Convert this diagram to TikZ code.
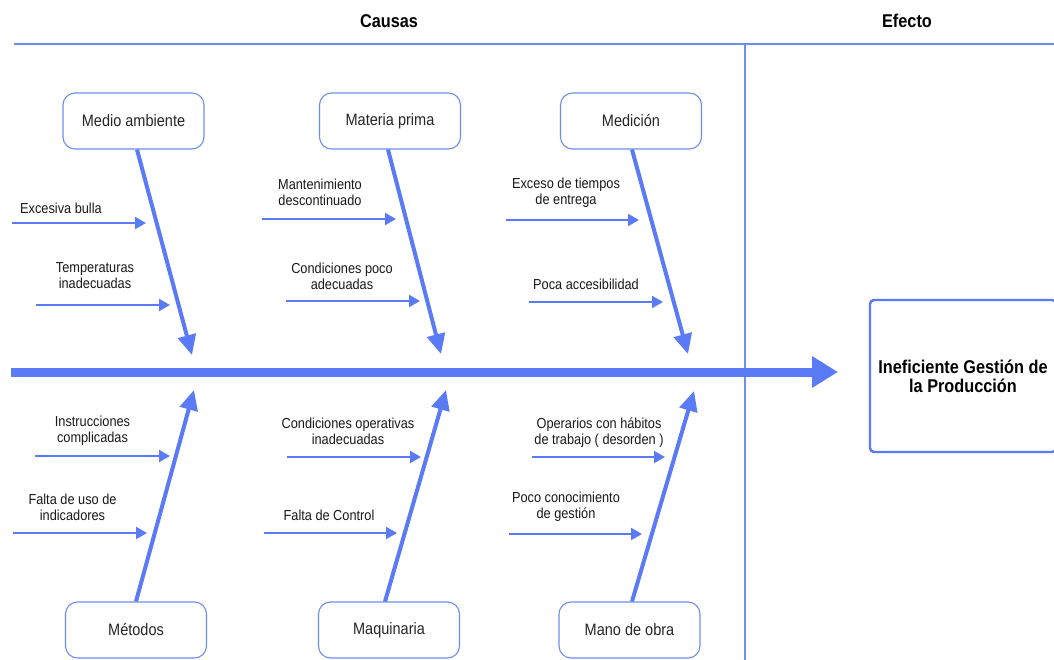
\documentclass[tikz,border=0pt]{standalone}
\usepackage{fontspec}
\setmainfont{Liberation Sans}
\newfontfamily\lab[FakeStretch=0.88]{Liberation Sans}
\usetikzlibrary{arrows.meta}
\definecolor{bl}{RGB}{90,123,245}
\definecolor{bb}{RGB}{110,140,242}
\tikzset{
 causebox/.style={draw=bb, line width=1.1pt, rounded corners=12pt, minimum width=141pt, minimum height=56pt, font=\lab\fontsize{16.5}{19}\selectfont, text=black!85, inner sep=0pt},
 lbl/.style={align=center, font=\lab\fontsize{14.5}{16}\selectfont, inner sep=0pt, text=black!90},
 head/.style={font=\lab\bfseries\fontsize{18.5}{20}\selectfont, inner sep=0pt},
 twig/.style={draw=bl, line width=2.2pt, -{Triangle[length=11pt,width=12pt]}},
 bone/.style={draw=bl, line width=4pt, -{Triangle[length=20pt,width=18pt]}},
 spine/.style={draw=bl, line width=9pt, -{Triangle[length=26pt,width=30pt]}},
 sepline/.style={draw=bb, line width=1.2pt},
 effbox/.style={draw=bl, line width=2.4pt, rounded corners=4pt, minimum width=186pt, minimum height=152pt, align=center, font=\lab\bfseries\fontsize{18.5}{19}\selectfont, inner sep=0pt},
}
\begin{document}
\begin{tikzpicture}[x=1pt,y=-1pt]
\useasboundingbox (0,0) rectangle (1054,660);
\fill[white] (0,0) rectangle (1054,660);

% headers and separators
\node[head] (causas) at (389,21) {Causas};
\node[head] (efecto) at (907,21) {Efecto};
\coordinate (tl) at (14,44);
\coordinate (tr) at (1056,44);
\coordinate (vt) at (745,44);
\coordinate (vb) at (745,662);
\draw[sepline] (tl) -- (tr);
\draw[sepline] (vt) -- (vb);

% effect
\node[effbox] (eff) at (963,376) {Ineficiente Gestión de\\la Producción};

% spine
\coordinate (s0) at (11,372);
\coordinate (s1) at (838,372);
\draw[spine] (s0) -- (s1);

% cause boxes
\node[causebox] (ma) at (133.5,121) {Medio ambiente};
\node[causebox] (mp) at (390,121) {Materia prima};
\node[causebox] (me) at (631,121) {Medición};
\node[causebox] (mt) at (136,630) {Métodos};
\node[causebox] (mq) at (389,630) {Maquinaria};
\node[causebox] (mo) at (629.5,630) {Mano de obra};

% bone tips
\coordinate (tma) at (192,355);
\coordinate (tmp) at (441,354);
\coordinate (tme) at (688,354);
\coordinate (tmt) at (194,390);
\coordinate (tmq) at (446,390);
\coordinate (tmo) at (694,391);

\draw[bone] ([xshift=3.5pt]ma.south) -- (tma);
\draw[bone] ([xshift=-2pt]mp.south) -- (tmp);
\draw[bone] ([xshift=1pt]me.south) -- (tme);
\draw[bone] (mt.north) -- (tmt);
\draw[bone] ([xshift=-4pt]mq.north) -- (tmq);
\draw[bone] ([xshift=2.5pt]mo.north) -- (tmo);

% twigs: top left
\node[lbl] (l1) at (61,208) {Excesiva bulla};
\coordinate (a1) at (12,223); \coordinate (b1) at (146,223);
\draw[twig] (a1) -- (b1);
\node[lbl] (l2) at (95,276) {Temperaturas\\inadecuadas};
\coordinate (a2) at (36,305); \coordinate (b2) at (170,305);
\draw[twig] (a2) -- (b2);

% top middle
\node[lbl] (l3) at (320,192) {Mantenimiento\\descontinuado};
\coordinate (a3) at (262,219); \coordinate (b3) at (396,219);
\draw[twig] (a3) -- (b3);
\node[lbl] (l4) at (342,276) {Condiciones poco\\adecuadas};
\coordinate (a4) at (286,301); \coordinate (b4) at (420,301);
\draw[twig] (a4) -- (b4);

% top right
\node[lbl] (l5) at (566,193) {Exceso de tiempos\\de entrega};
\coordinate (a5) at (506,220); \coordinate (b5) at (639,220);
\draw[twig] (a5) -- (b5);
\node[lbl] (l6) at (586,284) {Poca accesibilidad};
\coordinate (a6) at (529,302); \coordinate (b6) at (663,302);
\draw[twig] (a6) -- (b6);

% bottom left
\node[lbl] (l7) at (92.5,431) {Instrucciones\\complicadas};
\coordinate (a7) at (35,456); \coordinate (b7) at (170,456);
\draw[twig] (a7) -- (b7);
\node[lbl] (l8) at (72.5,507) {Falta de uso de\\indicadores};
\coordinate (a8) at (13,533); \coordinate (b8) at (147,533);
\draw[twig] (a8) -- (b8);

% bottom middle
\node[lbl] (l9) at (348,431) {Condiciones operativas\\inadecuadas};
\coordinate (a9) at (287,457); \coordinate (b9) at (421,457);
\draw[twig] (a9) -- (b9);
\node[lbl] (l10) at (329,515) {Falta de Control};
\coordinate (a10) at (264,533); \coordinate (b10) at (397,533);
\draw[twig] (a10) -- (b10);

% bottom right
\node[lbl] (l11) at (599,433) {Operarios con hábitos\\de trabajo ( desorden )};
\coordinate (a11) at (532,457); \coordinate (b11) at (665,457);
\draw[twig] (a11) -- (b11);
\node[lbl] (l12) at (566,507) {Poco conocimiento\\de gestión};
\coordinate (a12) at (509,534); \coordinate (b12) at (642,534);
\draw[twig] (a12) -- (b12);
\end{tikzpicture}
\end{document}
